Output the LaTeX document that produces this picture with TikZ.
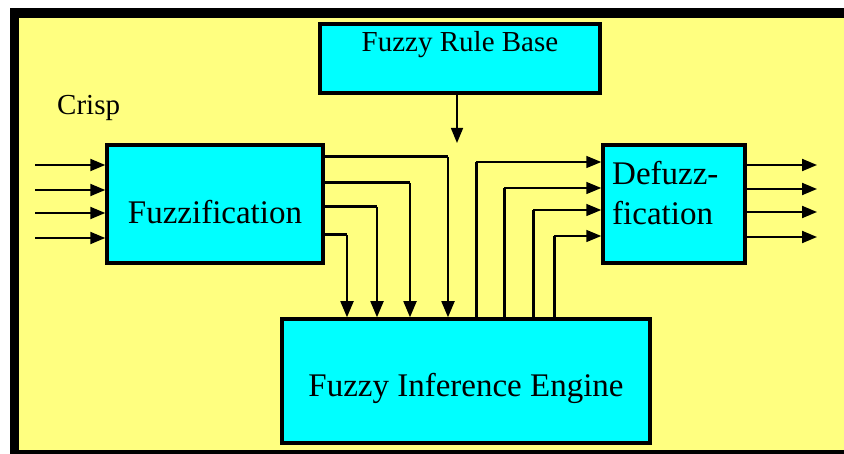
\documentclass[tikz,border=0pt]{standalone}
\usepackage{fontspec}
\setmainfont{Liberation Serif}
\newfontfamily\diagfont{Liberation Serif}
\usetikzlibrary{arrows.meta}
\definecolor{bgyellow}{RGB}{255,255,128}
\definecolor{boxcyan}{RGB}{0,255,255}
\begin{document}
\begin{tikzpicture}[x=1pt,y=-1pt,
  box/.style={draw=black, line width=3.5pt, fill=boxcyan, inner sep=0pt},
  bigtxt/.style={font=\diagfont\fontsize{33}{40}\selectfont},
  midtxt/.style={font=\diagfont\fontsize{29}{34}\selectfont},
  inarr/.style={-{Triangle[length=15pt,width=12pt]}, line width=2pt},
  thinarr/.style={-{Triangle[length=15pt,width=12pt]}, line width=1.5pt},
  downarr/.style={-{Triangle[length=16pt,width=13pt]}, line width=1.8pt},
  thickln/.style={line width=3pt},
]
\useasboundingbox (0,0) rectangle (844,454);
\fill[white] (0,0) rectangle (844,454);
\fill[black] (10,8) rectangle (844,454);
\fill[bgyellow] (19,18) rectangle (844,450);

% boxes
\node[box, midtxt, minimum width=280pt, text height=28pt, text depth=41pt] (rb) at (460,58.5) {Fuzzy Rule Base};
\node[box, bigtxt, minimum width=216pt, text height=79pt, text depth=39pt] (ff) at (215,204) {Fuzzification};
\node[box, minimum width=142pt, minimum height=118pt] (df) at (674,204) {};
\node[bigtxt, anchor=base west, align=left, inner sep=0pt] (dft) at (612,225) {Defuzz-\\fication};
\node[box, bigtxt, minimum width=368pt, text height=78pt, text depth=46pt] (fie) at (466,381) {Fuzzy Inference Engine};
\node[midtxt, anchor=base west, inner sep=0pt] (crisp) at (57,115) {Crisp};

% rule base arrow
\coordinate (rbtip) at (457,143);
\draw[thinarr] (rb.south -| rbtip) -- (rbtip);

% crisp inputs
\foreach \yy in {165,190,213,238} {
  \coordinate (in\yy) at (35,\yy);
  \draw[inarr] (in\yy) -- (ff.west |- in\yy);
}

% fuzzification outputs to inference engine
\foreach \yy/\xx in {157/448,183/410,207/377,235/347} {
  \coordinate (fo\xx) at (\xx,\yy);
  \draw[thickln] (ff.east |- fo\xx) -- (fo\xx);
  \draw[downarr] (fo\xx) -- (fie.north -| fo\xx);
}

% inference engine outputs to defuzzification
\foreach \xx/\yy in {476/162,504/188,533/210,554/236} {
  \coordinate (io\xx) at (\xx,\yy);
  \draw[thickln] (fie.north -| io\xx) -- (io\xx);
  \draw[thinarr] (io\xx) -- (df.west |- io\xx);
}

% defuzzification outputs
\foreach \yy in {165,189,212,237} {
  \coordinate (out\yy) at (817,\yy);
  \draw[inarr] (df.east |- out\yy) -- (out\yy);
}
\end{tikzpicture}
\end{document}
